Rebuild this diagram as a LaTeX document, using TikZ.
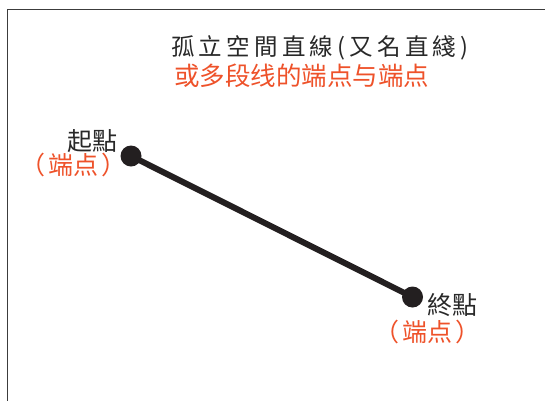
\documentclass[tikz,border=0pt]{standalone}
\usepackage{fontspec}
\newfontfamily\tcfont{Noto Sans CJK TC}
\newfontfamily\tcspaced[LetterSpace=18]{Noto Sans CJK TC}
\newfontfamily\scfont{Noto Sans CJK SC}
\definecolor{ink}{RGB}{40,40,40}
\definecolor{dotc}{RGB}{35,31,32}
\definecolor{redc}{RGB}{238,82,42}
\definecolor{framec}{RGB}{60,60,60}
\tikzset{
  lbl/.style={anchor=west,inner sep=0pt,text=ink,font=\tcfont\fontsize{25}{25}\selectfont},
  rlbl/.style={anchor=west,inner sep=0pt,text=redc,font=\scfont\fontsize{25}{25}\selectfont},
  enddot/.style={circle,fill=dotc,minimum size=21pt,inner sep=0pt},
  seg/.style={draw=dotc,line width=6pt},
  frame/.style={draw=framec,line width=1pt}
}
\newcommand{\ptlabeltext}{（\hspace{3pt}端点\hspace{3pt}）}
\begin{document}
\begin{tikzpicture}[x=1pt,y=-1pt]
\useasboundingbox (0,0) rectangle (545,400);
\coordinate (ftl) at (7.5,9.5);
\coordinate (ftr) at (546,9.5);
\coordinate (fbl) at (7.5,401);
\draw[frame] (fbl) -- (ftl) -- (ftr);
\node[lbl,font=\tcspaced\fontsize{23.5}{24}\selectfont] (title) at (171,47.5) {孤立空間直線(又名直綫)};
\node[rlbl,font=\scfont\fontsize{25.5}{26}\selectfont] (sub) at (174,75.5) {或多段线的端点与端点};
\node[enddot] (a) at (131,156) {};
\node[enddot] (b) at (412.5,297) {};
\draw[seg] (a.center) -- (b.center);
\node[lbl] (alab) at (67,141) {起點};
\node[rlbl] (ared) at (20,164.5) {\ptlabeltext};
\node[lbl] (blab) at (427,305.5) {終點};
\node[rlbl] (bred) at (374,331.5) {\ptlabeltext};
\end{tikzpicture}
\end{document}
